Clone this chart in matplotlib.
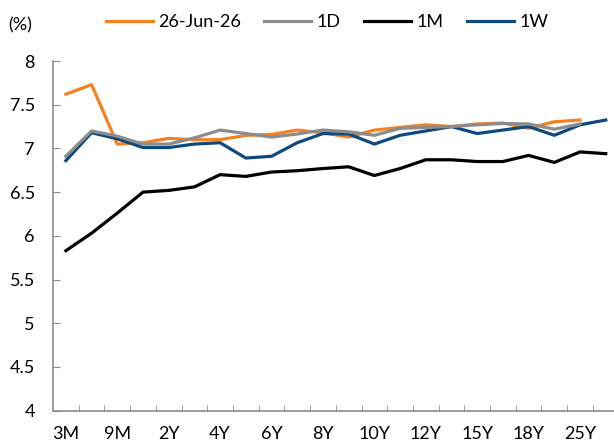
import matplotlib
matplotlib.use("Agg")
import matplotlib.pyplot as plt
import numpy as np

plt.rcParams['font.family'] = ['Lato', 'DejaVu Sans']

tenors = ["3M", "6M", "9M", "1Y", "2Y", "3Y", "4Y", "5Y", "6Y", "7Y", "8Y",
          "9Y", "10Y", "11Y", "12Y", "13Y", "15Y", "16Y", "18Y", "20Y", "25Y", "30Y"]
tick_labels = ["3M", "9M", "2Y", "4Y", "6Y", "8Y", "10Y", "12Y", "15Y", "18Y", "25Y"]

cur = [7.62, 7.73, 7.05, 7.065, 7.115, 7.10, 7.10, 7.15, 7.16, 7.21, 7.18,
       7.13, 7.21, 7.24, 7.27, 7.25, 7.28, 7.29, 7.23, 7.305, 7.325, np.nan]
d1 = [6.91, 7.20, 7.14, 7.05, 7.05, 7.12, 7.21, 7.17, 7.13, 7.165, 7.21,
      7.19, 7.15, 7.23, 7.24, 7.25, 7.27, 7.285, 7.28, 7.22, 7.28, np.nan]
m1 = [5.83, 6.03, 6.26, 6.50, 6.52, 6.56, 6.70, 6.68, 6.73, 6.745, 6.77,
      6.79, 6.69, 6.77, 6.87, 6.87, 6.85, 6.85, 6.92, 6.84, 6.96, 6.94]
w1 = [6.86, 7.18, 7.11, 7.01, 7.01, 7.05, 7.065, 6.89, 6.91, 7.065, 7.17,
      7.165, 7.05, 7.15, 7.20, 7.25, 7.17, 7.21, 7.25, 7.15, 7.27, 7.325]

fig = plt.figure(figsize=(6.14, 4.46), dpi=100)
ax = fig.add_axes([53/614, 1-410.7/446, (618.6-53)/614, (410.7-61)/446])

x = np.arange(len(tenors))
lw = 2.3
ax.plot(x, cur, color="#F58220", lw=lw, label="26-Jun-26", zorder=2)
ax.plot(x, d1, color="#8C8C8C", lw=lw, label="1D", zorder=4)
ax.plot(x, m1, color="#000000", lw=lw, label="1M", zorder=5)
ax.plot(x, w1, color="#0E4A80", lw=lw, label="1W", zorder=3)

ax.set_xlim(-0.5, len(tenors) - 0.5)
ax.set_ylim(4, 8)
ax.set_yticks(np.arange(4, 8.01, 0.5))
ax.set_yticklabels(["4", "4.5", "5", "5.5", "6", "6.5", "7", "7.5", "8"])
ax.set_xticks(x[::2])
ax.set_xticklabels(tick_labels)
ax.set_xticks(np.arange(0.5, len(tenors) - 0.5, 1), minor=True)

for s in ["top", "right"]:
    ax.spines[s].set_visible(False)
for s in ["left", "bottom"]:
    ax.spines[s].set_color("#8C8C8C")
    ax.spines[s].set_linewidth(1.2)

fs = 13
ax.tick_params(axis="y", direction="in", length=5, color="#8C8C8C", labelsize=fs, pad=13)
ax.tick_params(axis="x", which="major", length=0, labelsize=fs, pad=11)
ax.tick_params(axis="x", which="minor", direction="in", length=4, color="#8C8C8C")

fig.text(20/614, 1-25/446, "(%)", fontsize=fs, ha="center", va="center")
fig.legend(loc="center", bbox_to_anchor=(327/614, 1-22/446), ncol=4, frameon=False,
           fontsize=fs, handlelength=2.6, handletextpad=0.3, columnspacing=1.3)

fig.savefig("out.png", dpi=100)
